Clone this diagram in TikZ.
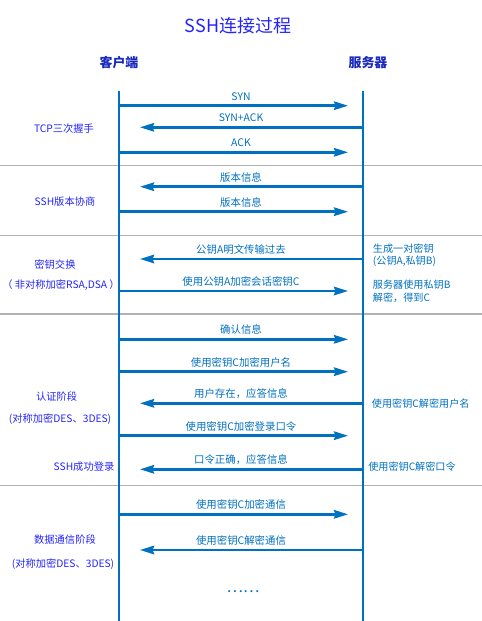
\documentclass[tikz,border=0pt]{standalone}
\usepackage{fontspec}
\setmainfont{Noto Sans CJK SC}
\usetikzlibrary{arrows.meta,positioning}

\definecolor{seqblue}{RGB}{0,112,192}
\definecolor{phaseblue}{RGB}{36,36,250}
\definecolor{headblue}{RGB}{26,40,190}

\begin{document}
\begin{tikzpicture}[
    x=0.025cm, y=-0.025cm,
    title/.style={font=\fontsize{12.8}{15}\selectfont, text=phaseblue},
    head/.style={font=\fontsize{9.2}{11}\selectfont\bfseries, text=headblue},
    lifeline/.style={draw=seqblue, line width=2.1pt},
    msg/.style={draw=seqblue, line width=1.8pt, -{Stealth[length=10pt,width=6pt,inset=1pt]}},
    lbl/.style={font=\fontsize{7.4}{8.6}\selectfont, text=seqblue, anchor=base, yshift=4pt, inner sep=0pt},
    phase/.style={font=\fontsize{7.3}{8.8}\selectfont, text=phaseblue},
    note/.style={font=\fontsize{7.2}{8.6}\selectfont, text=seqblue, align=left, anchor=west, inner sep=0pt},
    sep/.style={draw=black!30, line width=0.8pt}
]
\useasboundingbox (0,0) rectangle (482,621);

% Title
\node[title] (title) at (238,26) {SSH连接过程};

% Participants
\node[head] (client) at (119,63) {客户端};
\node[head] (server) at (368,63) {服务器};

% Phase separators
\foreach \y in {165.7, 235.7, 314, 485.3} {
    \draw[sep] (0,\y) -- (482,\y);
}

% Lifelines
\coordinate (cTop) at (119,90.7);
\coordinate (cBot) at (119,621);
\coordinate (sTop) at (363,90.7);
\coordinate (sBot) at (363,621);
\draw[lifeline] (cTop) -- (cBot);
\draw[lifeline] (sTop) -- (sBot);

% Message anchors on both lifelines
\foreach \i/\y in {1/105.7, 2/127.3, 3/152.3, 4/186.7, 5/211.7, 6/259, 7/291,
                   8/339.3, 9/371.7, 10/403.3, 11/435.7, 12/469.3, 13/514.3, 14/550} {
    \coordinate (c\i) at (119,\y);
    \coordinate (s\i) at (363,\y);
}

% Client -> server
\foreach \i/\txt in {1/SYN, 3/ACK, 5/版本信息, 7/使用公钥A加密会话密钥C, 8/确认信息,
                     9/使用密钥C加密用户名, 11/使用密钥C加密登录口令, 13/使用密钥C加密通信} {
    \draw[msg, shorten >=10.6pt] (c\i) -- node[lbl] {\txt} (s\i);
}

% Server -> client
\foreach \i/\txt in {2/SYN+ACK, 4/版本信息, 6/公钥A明文传输过去, 10/用户存在，应答信息,
                     12/口令正确，应答信息, 14/使用密钥C解密通信} {
    \draw[msg, shorten >=14.9pt] (s\i) -- node[lbl] {\txt} (c\i);
}

% Phase names
\node[phase] (tcp) at (64,128.3) {TCP三次握手};
\node[phase] (ver) at (65,201.7) {SSH版本协商};
\node[phase] (kex) at (55,264.3) {密钥交换};
\node[phase] (kexalg) at (61,285) {（ 非对称加密RSA,DSA ）};
\node[phase] (auth) at (56.7,396.7) {认证阶段};
\node[phase] (authalg) at (60,419.3) {(对称加密DES、3DES)};
\node[phase] (login) at (84,466.7) {SSH成功登录};
\node[phase] (data) at (65,540) {数据通信阶段};
\node[phase] (dataalg) at (63,564.3) {(对称加密DES、3DES)};

% Server side notes
\node[note] (gen) at (372.7,255) {生成一对密钥\\(公钥A,私钥B)};
\node[note] (dec) at (372.7,291.3) {服务器使用私钥B\\解密，得到C};
\node[note] (decuser) at (371.7,403.3) {使用密钥C解密用户名};
\node[note] (decpw) at (368,466.7) {使用密钥C解密口令};

% More traffic
\node[font=\fontsize{11}{13}\selectfont, text=seqblue] (more) at (243,591.7) {……};

\end{tikzpicture}
\end{document}
